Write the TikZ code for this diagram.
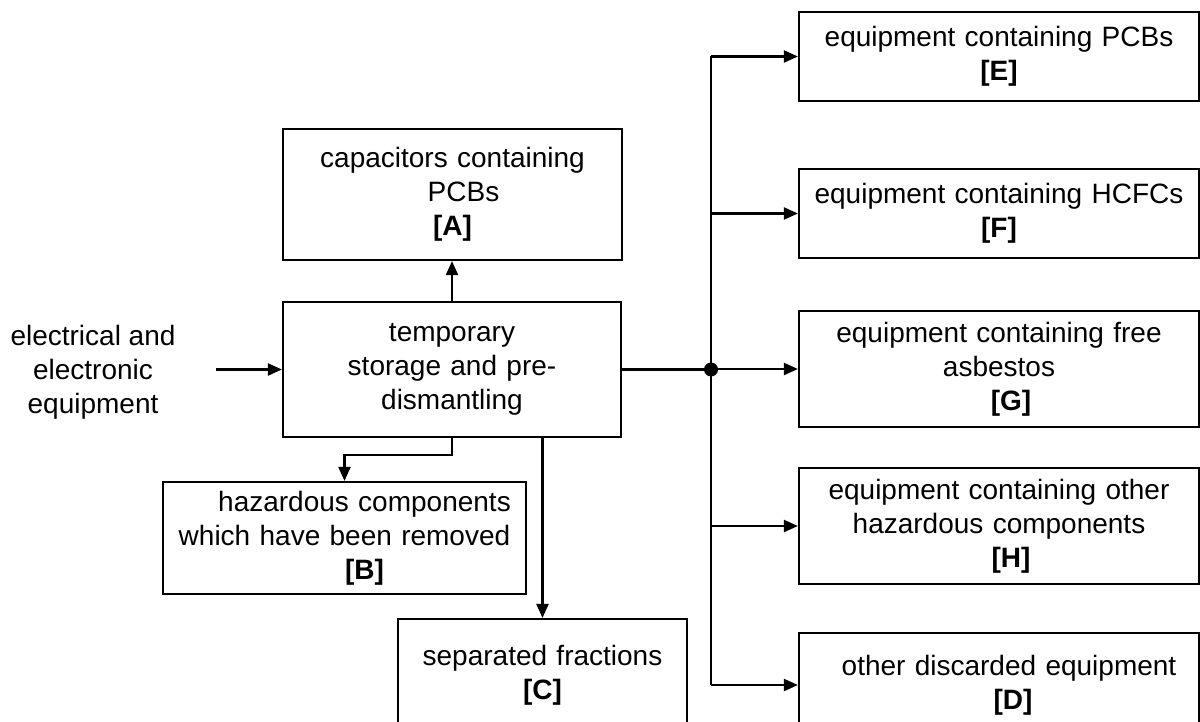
\documentclass[tikz,border=0pt]{standalone}
\usepackage{fontspec}
\setmainfont{Liberation Sans}
\usetikzlibrary{arrows.meta}
\tikzset{
  box/.style={draw,line width=2.2pt,inner sep=0pt,align=center,font=\fontsize{28}{34}\selectfont},
  arr/.style={line width=2.2pt,-{Triangle[length=14pt,width=12pt]}},
  wire/.style={line width=2.2pt}
}
\begin{document}
\begin{tikzpicture}[x=1pt,y=-1pt]
\path[use as bounding box,clip](0,0)rectangle(1200,722);
%left part
\node[align=center,font=\fontsize{28}{34}\selectfont](src)at(93,372){electrical and\\electronic\\equipment};
\node[box,text width=338pt,minimum height=135pt](store)at(452,369.5){temporary\\storage and pre-\\dismantling};
\node[box,text width=339pt,minimum height=131pt](A)at(452.5,194.5){capacitors containing\\\hspace*{22pt}PCBs\\\textbf{[A]}};
\node[box,text width=363pt,minimum height=112pt](B)at(344.5,538){\hspace*{40pt}hazardous components\\which have been removed\\\hspace*{40pt}\textbf{[B]}};
\node[box,text width=289pt,minimum height=112pt](C)at(542.5,675){separated fractions\\\textbf{[C]}};
%right part
\node[box,text width=400pt,minimum height=89pt](E)at(999,56.5){equipment containing PCBs\\\textbf{[E]}};
\node[box,text width=400pt,minimum height=89pt](F)at(999,213.5){equipment containing HCFCs\\\textbf{[F]}};
\node[box,text width=400pt,minimum height=116pt](G)at(999,369){equipment containing free\\asbestos\\\hspace*{24pt}\textbf{[G]}};
\node[box,text width=400pt,minimum height=116pt](H)at(999,526){equipment containing other\\hazardous components\\\hspace*{24pt}\textbf{[H]}};
\node[box,text width=400pt,minimum height=104pt](D)at(999,685){\hspace*{20pt}other discarded equipment\\\hspace*{28pt}\textbf{[D]}};
%arrows
\coordinate(in)at(216,369.5);
\coordinate(hub)at(711,369.5);
\draw[arr](in)--(store.west);
\draw[arr](store.north)--(store.north|-A.south);
\draw[arr](store.south)--++(0,17)-|(B.north);
\draw[arr](C.north|-store.south)--(C.north);
\draw[wire](store.east)--(hub);
\draw[wire](hub|-E.west)--(hub|-D.west);
\fill(hub)circle(7pt);
\foreach \b in {E,F,G,H,D}
  \draw[arr](hub|-\b.west)--(\b.west);
\end{tikzpicture}
\end{document}
